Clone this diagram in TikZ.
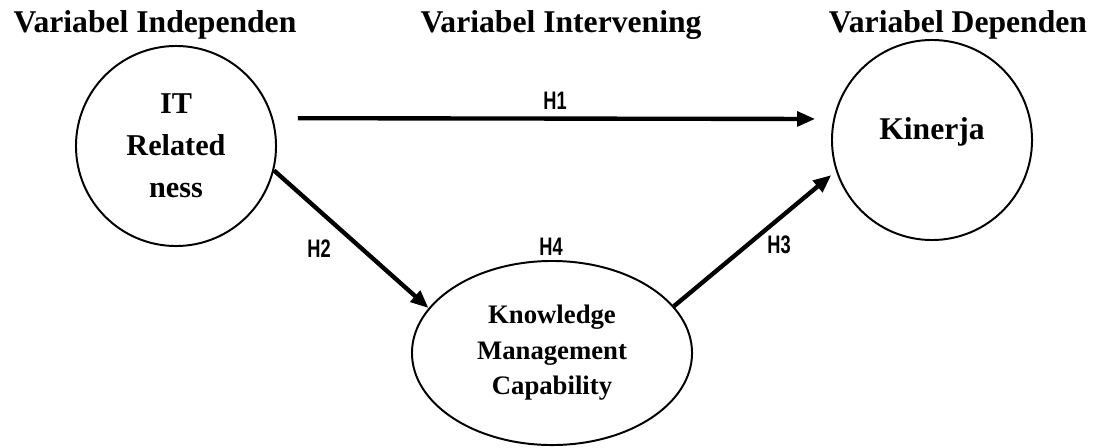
\documentclass[tikz,border=0pt]{standalone}
\usepackage{graphicx}
\usepackage{fontspec}
\setmainfont{Liberation Serif}
\setsansfont{Liberation Sans}
\usetikzlibrary{arrows.meta,shapes.geometric}

\begin{document}
\begin{tikzpicture}[x=0.025cm, y=-0.025cm, line join=round, >={Triangle[length=0.45cm,width=0.36cm]},
    var/.style={draw, line width=1.4pt, inner sep=0pt, align=center},
    head/.style={font=\fontsize{22.5}{27}\selectfont\bfseries, anchor=base},
    hyp/.style={font=\fontsize{18}{21}\selectfont\bfseries\sffamily},
    link/.style={->, line width=3.1pt}]
    \useasboundingbox (0,0) rectangle (1095,447);
    \node[head] (indep) at (155,32) {Variabel Independen};
    \node[head] (interv) at (561,32) {Variabel Intervening};
    \node[head] (dep) at (958,32) {Variabel Dependen};
    \node[var, circle, minimum size=5cm, font=\fontsize{21.5}{29.9}\selectfont\bfseries] (it) at (176,146) {IT\\Related\\ness};
    \node[var, circle, minimum size=5cm] (kin) at (932,140) {};
    \node[font=\fontsize{22.5}{26}\selectfont\bfseries, anchor=base] (kintext) at (932,139) {Kinerja};
    \node[var, ellipse, minimum width=7cm, minimum height=4.6cm, font=\fontsize{19}{25.3}\selectfont\bfseries] (kmc) at (552,353) {Knowledge\\Management\\Capability};
    \draw[link, shorten <=0.62cm, shorten >=0.45cm] (it.16) -- (kin.168);
    \draw[link] (it.-14) -- (kmc.160);
    \draw[link, shorten >=0.15cm] (kmc.21) -- (kin.198);
    \node[hyp] (h1) at (555,101) {\scalebox{0.72}[1]{H1}};
    \node[hyp] (h2) at (319,249) {\scalebox{0.72}[1]{H2}};
    \node[hyp] (h3) at (779,245) {\scalebox{0.72}[1]{H3}};
    \node[hyp] (h4) at (551,247) {\scalebox{0.72}[1]{H4}};
\end{tikzpicture}
\end{document}
